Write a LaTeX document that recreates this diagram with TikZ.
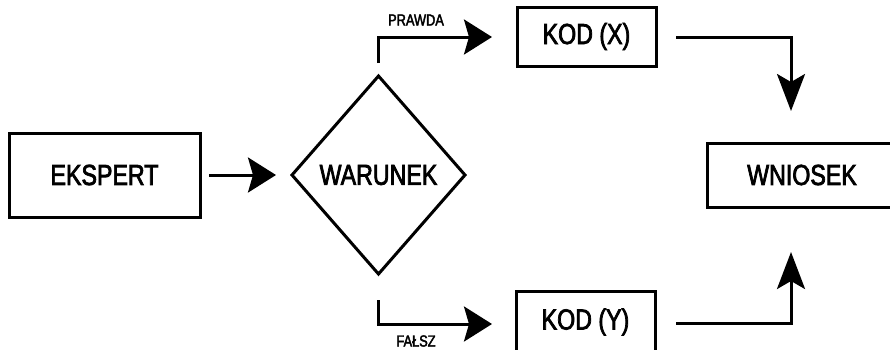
\documentclass[tikz,border=0pt]{standalone}
\usepackage{fontspec}
\setmainfont{Liberation Sans}[FakeStretch=0.8,FakeBold=2.5]
\usetikzlibrary{shapes.geometric,arrows.meta}
\begin{document}
\begin{tikzpicture}[x=1pt,y=-1pt,
  line width=3pt,
  box/.style={draw,rectangle,outer sep=0pt,inner sep=0pt,font=\fontsize{29}{30}\selectfont},
  cond/.style={draw,diamond,outer sep=0pt,inner sep=0pt,font=\fontsize{29}{30}\selectfont},
  lbl/.style={font=\fontsize{16}{17}\selectfont,inner sep=0pt},
  harrow/.style={-{Stealth[length=28pt,width=35pt,inset=5pt]}},
  varrow/.style={-{Stealth[length=37pt,width=28pt,inset=8pt]}}]
\clip (0,0) rectangle (890,349);
\useasboundingbox (0,0) rectangle (890,349);

% process boxes and the decision
\node[box,minimum width=191pt,minimum height=84pt] (ekspert) at (104.5,175) {EKSPERT};
\node[cond,minimum width=173pt,minimum height=198pt] (warunek) at (378.5,175) {WARUNEK};
\node[box,minimum width=139pt,minimum height=59pt] (kodx) at (586.5,36.5) {KOD (X)};
\node[box,minimum width=139pt,minimum height=62pt] (kody) at (585.5,322) {KOD (Y)};
\node[box,minimum width=190pt,minimum height=64pt] (wniosek) at (802,175) {WNIOSEK};

% branch labels
\node[lbl] (prawda) at (416,20) {PRAWDA};
\node[lbl] (falsz) at (416,341) {FAŁSZ};

% bend points of the connectors
\coordinate (tbend) at (378.5,37);
\coordinate (bbend) at (378.5,324);
\coordinate (rtop) at (791,37);
\coordinate (rbot) at (791,323);

% connectors (y grows downward, so a positive yshift moves up)
\draw[harrow] ([xshift=9pt]ekspert.east) -- ([xshift=-16pt]warunek.west);
\draw[harrow] ([yshift=13pt]warunek.north) -- (tbend) -- ([xshift=-25pt]kodx.west |- tbend);
\draw[harrow] ([yshift=-26pt]warunek.south) -- (bbend) -- ([xshift=-24pt]kody.west |- bbend);
\draw[varrow] ([xshift=20pt]kodx.east |- rtop) -- (rtop) -- ([yshift=32pt]rtop |- wniosek.north);
\draw[varrow] ([xshift=21pt]kody.east |- rbot) -- (rbot) -- ([yshift=-45pt]rbot |- wniosek.south);
\end{tikzpicture}
\end{document}
